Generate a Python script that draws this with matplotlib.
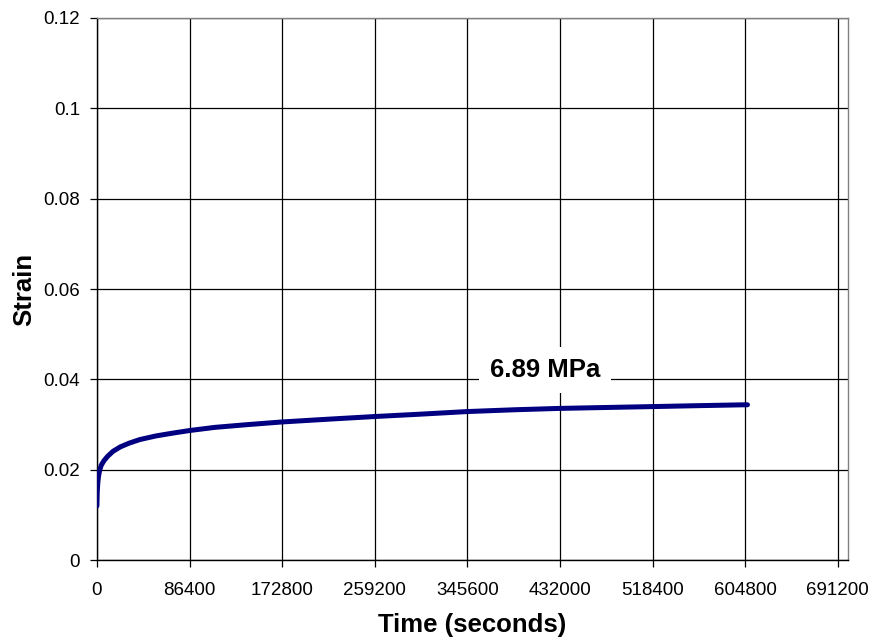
import matplotlib
matplotlib.use('Agg')
import matplotlib.pyplot as plt

plt.rcParams['font.family'] = ['Liberation Sans', 'DejaVu Sans']

# creep curve
time_s = [0, 300, 800, 1500, 2500, 4000, 6500, 10000, 15000, 22000, 30000,
          40000, 55000, 70000, 86400, 110000, 140000, 172800, 215000, 259200,
          300000, 345600, 390000, 432000, 475000, 518400, 560000, 604800, 607000]
strain = [0.0120, 0.0150, 0.0170, 0.0186, 0.0198, 0.0210, 0.0220, 0.0230,
          0.0241, 0.0251, 0.0259, 0.0267, 0.0275, 0.0281, 0.0287, 0.0294,
          0.0300, 0.0306, 0.0312, 0.0318, 0.0323, 0.0329, 0.0333, 0.0336,
          0.0338, 0.0340, 0.0342, 0.0344, 0.0344]

x_ticks = [0, 86400, 172800, 259200, 345600, 432000, 518400, 604800, 691200]
y_ticks = [0, 0.02, 0.04, 0.06, 0.08, 0.1, 0.12]
y_labels = ['0', '0.02', '0.04', '0.06', '0.08', '0.1', '0.12']

fig = plt.figure(figsize=(8.73, 6.41), dpi=100)
ax = fig.add_axes([0.111, 0.126, 0.86, 0.846])

ax.plot(time_s, strain, color='#000080', linewidth=3.6, solid_capstyle='round', zorder=3)

ax.set_xlim(0, 700500)
ax.set_ylim(0, 0.12)
ax.set_xticks(x_ticks)
ax.set_xticklabels([str(t) for t in x_ticks])
ax.set_yticks(y_ticks)
ax.set_yticklabels(y_labels)
ax.grid(True, color='black', linewidth=0.9)
ax.tick_params(direction='out', length=5, width=0.9, labelsize=13.5)
ax.tick_params(axis='x', pad=11)
ax.tick_params(axis='y', pad=7)

for s in ax.spines.values():
    s.set_color('#808080')
    s.set_linewidth(1.0)
ax.spines['left'].set_color('black')
ax.spines['bottom'].set_color('black')

ax.set_xlabel('Time (seconds)', fontsize=18.5, fontweight='bold', labelpad=10)
ax.set_ylabel('Strain', fontsize=18.5, fontweight='bold', labelpad=5.5)

ax.text(418000, 0.0420, '6.89 MPa', fontsize=18.5, fontweight='bold',
        ha='center', va='center', zorder=4,
        bbox=dict(facecolor='white', edgecolor='none', pad=8))

fig.savefig('out.png', dpi=100)
